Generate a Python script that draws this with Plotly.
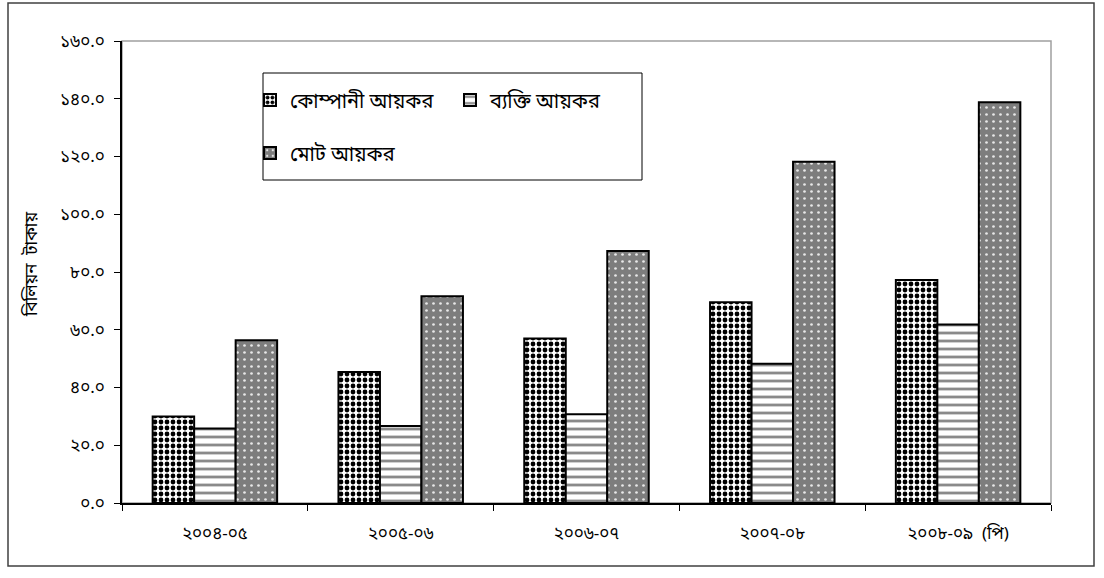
import plotly.graph_objects as go

# Fiscal years (Bengali numerals)
years = ["২০০৪-০৫", "২০০৫-০৬", "২০০৬-০৭", "২০০৭-০৮", "২০০৮-০৯\u00a0\u00a0(পি)"]

# Income tax collections, billion taka
company_tax = [30.0, 45.4, 57.0, 69.5, 77.2]
personal_tax = [25.8, 26.7, 30.7, 48.2, 61.8]
total_tax = [56.4, 71.6, 87.3, 118.2, 138.8]

series_names = ["কোম্পানী আয়কর", "ব্যক্তি আয়কর", "মোট আয়কর"]

# Y axis ticks
y_tick_vals = [0, 20, 40, 60, 80, 100, 120, 140, 160]
y_tick_text = ["০.০", "২০.০", "৪০.০", "৬০.০", "৮০.০", "১০০.০", "১২০.০", "১৪০.০", "১৬০.০"]

y_title = "বিলিয়ন  টাকায়"

FONT = "Noto Sans Bengali, Noto Sans, DejaVu Sans, sans-serif"

W, H = 1104, 578
L, R, T, B = 122, 53, 41, 75
PW, PH = W - L - R, H - T - B


def px_x(x):
    return (x - L) / PW


def px_y(y):
    return (H - B - y) / PH


fig = go.Figure()

fig.add_trace(go.Bar(
    x=years, y=company_tax, name=series_names[0], legend="legend",
    marker=dict(color="white", line=dict(color="black", width=2),
                pattern=dict(shape=".", fgcolor="black", bgcolor="white",
                             size=6, solidity=0.5, fillmode="replace")),
))
fig.add_trace(go.Bar(
    x=years, y=personal_tax, name=series_names[1], legend="legend",
    marker=dict(color="white", line=dict(color="black", width=2),
                pattern=dict(shape="-", fgcolor="#8a8a8a", bgcolor="white",
                             size=8, solidity=0.35, fillmode="replace")),
))
fig.add_trace(go.Bar(
    x=years, y=total_tax, name=series_names[2], legend="legend2",
    marker=dict(color="#8c8c8c", line=dict(color="black", width=2),
                pattern=dict(shape=".", fgcolor="#e8e8e8", bgcolor="#7d7d7d",
                             size=7, solidity=0.12, fillmode="replace")),
))

shapes = [
    # outer frame
    dict(type="rect", xref="paper", yref="paper",
         x0=px_x(8), x1=px_x(1094), y0=px_y(566), y1=px_y(3),
         line=dict(color="#404040", width=1.5), layer="below"),
    # plot-area border
    dict(type="rect", xref="paper", yref="paper", x0=0, x1=1, y0=0, y1=1,
         line=dict(color="#a0a0a0", width=1.5), layer="below"),
    # legend box
    dict(type="rect", xref="paper", yref="paper",
         x0=px_x(263), x1=px_x(642), y0=px_y(180), y1=px_y(73),
         line=dict(color="black", width=1), fillcolor="white", layer="above"),
]

fig.update_layout(
    width=W, height=H,
    margin=dict(l=L, r=R, t=T, b=B),
    paper_bgcolor="white", plot_bgcolor="white",
    font=dict(family=FONT, color="black", size=16),
    barmode="group", bargap=0.33, bargroupgap=0,
    shapes=shapes,
    legend=dict(orientation="h", x=px_x(250), y=px_y(100), xanchor="left", yanchor="middle",
                entrywidth=155, entrywidthmode="pixels", bgcolor="rgba(0,0,0,0)",
                font=dict(size=20, family=FONT), traceorder="normal"),
    legend2=dict(orientation="h", x=px_x(250), y=px_y(153), xanchor="left", yanchor="middle",
                 bgcolor="rgba(0,0,0,0)", font=dict(size=20, family=FONT)),
    annotations=[dict(text=y_title, xref="paper", yref="paper",
                      x=px_x(32), y=px_y(265), xanchor="center", yanchor="middle",
                      textangle=-90, showarrow=False,
                      font=dict(size=17, family=FONT))],
    xaxis=dict(showline=True, linecolor="black", linewidth=1.5,
               ticks="outside", tickson="boundaries", ticklen=6, tickcolor="black",
               showgrid=False, ticklabelstandoff=14, tickfont=dict(size=17)),
    yaxis=dict(range=[0, 160], tickvals=y_tick_vals, ticktext=y_tick_text,
               showline=True, linecolor="black", linewidth=1.5,
               ticks="outside", ticklen=6, tickcolor="black",
               showgrid=False, zeroline=False, ticklabelstandoff=6,
               tickfont=dict(size=17)),
)

fig.write_html("out.html")
